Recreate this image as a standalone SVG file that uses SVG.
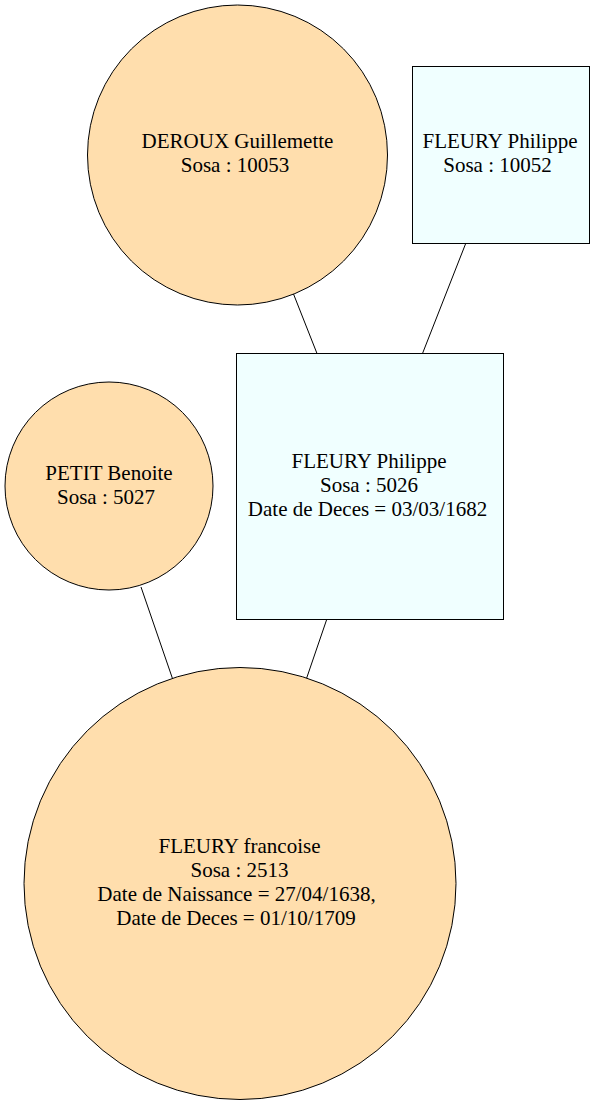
<svg xmlns="http://www.w3.org/2000/svg" width="595" height="1105" viewBox="0 0 595 1105">
<style>
.bg{fill:#ffffff}
.f{fill:#ffdead;stroke:#000000;stroke-width:1}
.m{fill:#f0ffff;stroke:#000000;stroke-width:1}
.e{stroke:#000000;stroke-width:1;fill:none}
.t{font-family:'Liberation Serif','Times New Roman',serif;font-size:21px;fill:#000000;text-anchor:middle}
</style>
<rect class="bg" x="0" y="0" width="595" height="1105"/>
<g id="edges">
<line class="e" x1="293.5" y1="294" x2="317" y2="353.5"/>
<line class="e" x1="465.5" y1="244" x2="422.5" y2="353.5"/>
<line class="e" x1="141" y1="587" x2="172.3" y2="678"/>
<line class="e" x1="326.7" y1="619.5" x2="306.5" y2="678.5"/>
</g>
<g id="n10053">
<circle class="f" cx="237.5" cy="155" r="150"/>
<text class="t" x="237.5" y="148">DEROUX Guillemette</text>
<text class="t" x="235" y="172">Sosa : 10053</text>
</g>
<g id="n10052">
<rect class="m" x="412.5" y="66.5" width="177" height="177"/>
<text class="t" x="500" y="148">FLEURY Philippe</text>
<text class="t" x="497.5" y="172">Sosa : 10052</text>
</g>
<g id="n5027">
<circle class="f" cx="109" cy="486" r="104"/>
<text class="t" x="109" y="480">PETIT Benoite</text>
<text class="t" x="106" y="503.5">Sosa : 5027</text>
</g>
<g id="n5026">
<rect class="m" x="236.5" y="353.5" width="267" height="266"/>
<text class="t" x="369" y="468">FLEURY Philippe</text>
<text class="t" x="369" y="492">Sosa : 5026</text>
<text class="t" x="367.5" y="516">Date de Deces = 03/03/1682</text>
</g>
<g id="n2513">
<circle class="f" cx="240" cy="883.5" r="216"/>
<text class="t" x="239.5" y="852.5">FLEURY francoise</text>
<text class="t" x="239.5" y="876.5">Sosa : 2513</text>
<text class="t" x="236.5" y="900.5">Date de Naissance = 27/04/1638,</text>
<text class="t" x="236" y="924.5">Date de Deces = 01/10/1709</text>
</g>
</svg>
